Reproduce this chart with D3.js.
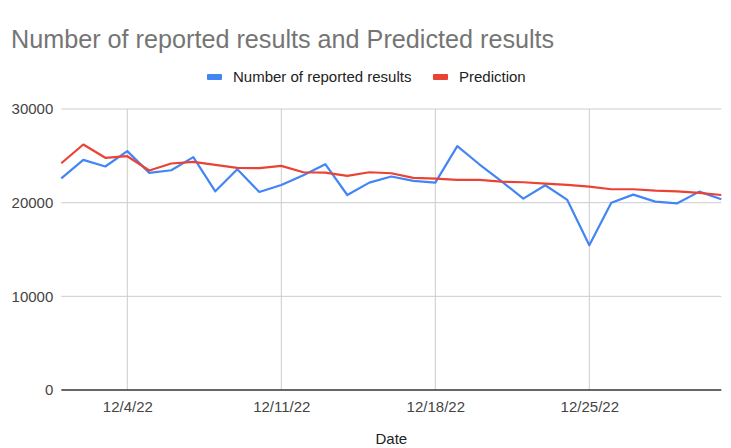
<!DOCTYPE html>
<html><head><meta charset="utf-8">
<script src="https://cdn.jsdelivr.net/npm/d3@7"></script>
<style>body{margin:0;background:#fff}svg{display:block}</style>
</head><body>
<svg id="c" width="731" height="448"></svg>
<script>
const dates = ["2022-12-01","2022-12-02","2022-12-03","2022-12-04","2022-12-05","2022-12-06","2022-12-07","2022-12-08","2022-12-09","2022-12-10","2022-12-11","2022-12-12","2022-12-13","2022-12-14","2022-12-15","2022-12-16","2022-12-17","2022-12-18","2022-12-19","2022-12-20","2022-12-21","2022-12-22","2022-12-23","2022-12-24","2022-12-25","2022-12-26","2022-12-27","2022-12-28","2022-12-29","2022-12-30","2022-12-31"];
const reported = [22600,24570,23860,25500,23180,23460,24860,21210,23570,21140,21890,22930,24110,20820,22140,22790,22320,22140,26040,24100,22300,20430,21860,20290,15460,20000,20860,20110,19930,21180,20360];
const prediction = [24210,26210,24790,24960,23430,24180,24360,24040,23710,23680,23930,23250,23210,22860,23250,23140,22640,22570,22430,22430,22250,22180,22040,21890,21710,21430,21430,21290,21210,21040,20820];
const xTicks = ["2022-12-04","2022-12-11","2022-12-18","2022-12-25"];
const xTickLabels = ["12/4/22","12/11/22","12/18/22","12/25/22"];
const yTicks = [0,10000,20000,30000];
const seriesNames = ["Number of reported results","Prediction"];
const colors = ["#4285F4","#EA4335"];

const FONT = "Arial, 'Liberation Sans', sans-serif";
const parse = d3.utcParse("%Y-%m-%d");
const svg = d3.select("#c");
const m = {l:61.3, r:721.3, t:109, b:390};
const x = d3.scaleUtc().domain([parse(dates[0]), parse(dates[dates.length-1])]).range([m.l, m.r]);
const y = d3.scaleLinear().domain([0,30000]).range([m.b, m.t]);

svg.append("text").attr("x",11).attr("y",48).attr("font-family",FONT)
  .attr("font-size",25.2).attr("fill","#757575").text("Number of reported results and Predicted results");

// gridlines
const gy = svg.append("g");
yTicks.forEach(t=>{
  if(t===0) return;
  gy.append("line").attr("x1",m.l).attr("x2",m.r).attr("y1",y(t)).attr("y2",y(t)).attr("stroke","#cccccc").attr("stroke-width",1);
});
xTicks.forEach(t=>{
  gy.append("line").attr("x1",x(parse(t))).attr("x2",x(parse(t))).attr("y1",m.t).attr("y2",m.b).attr("stroke","#cccccc").attr("stroke-width",1);
});
// y axis labels
const yAxis = d3.axisLeft(y).tickValues(yTicks).tickSize(0).tickPadding(8).tickFormat(d3.format("d"));
const ya = svg.append("g").attr("transform",`translate(${m.l},0)`).call(yAxis);
ya.select(".domain").remove();
ya.selectAll("text").attr("font-family",FONT).attr("font-size",15).attr("fill","#444");
// x axis
const xAxis = d3.axisBottom(x).tickValues(xTicks.map(parse)).tickSize(0).tickPadding(11)
  .tickFormat((d,i)=>xTickLabels[i]);
const xa = svg.append("g").attr("transform",`translate(0,${m.b})`).call(xAxis);
xa.select(".domain").remove();
xa.selectAll("text").attr("font-family",FONT).attr("font-size",15).attr("fill","#444");
svg.append("line").attr("x1",m.l).attr("x2",m.r).attr("y1",y(0)).attr("y2",y(0)).attr("stroke","#333").attr("stroke-width",1.5);

svg.append("text").attr("x",(m.l+m.r)/2).attr("y",444).attr("text-anchor","middle")
  .attr("font-family",FONT).attr("font-size",15).attr("fill","#222").text("Date");

// lines
const line = d3.line().x((d,i)=>x(parse(dates[i]))).y(d=>y(d));
[reported,prediction].forEach((s,k)=>{
  svg.append("path").attr("d",line(s)).attr("fill","none").attr("stroke",colors[k]).attr("stroke-width",2.2).attr("stroke-linejoin","round");
});

// legend
const lg = svg.append("g");
const lx = [207, 433];
seriesNames.forEach((n,k)=>{
  lg.append("rect").attr("x",lx[k]).attr("y",74).attr("width",15).attr("height",6).attr("rx",1).attr("fill",colors[k]);
  lg.append("text").attr("x",lx[k]+26).attr("y",82).attr("font-family",FONT).attr("font-size",15).attr("fill","#222").text(n);
});
</script>
</body></html>
